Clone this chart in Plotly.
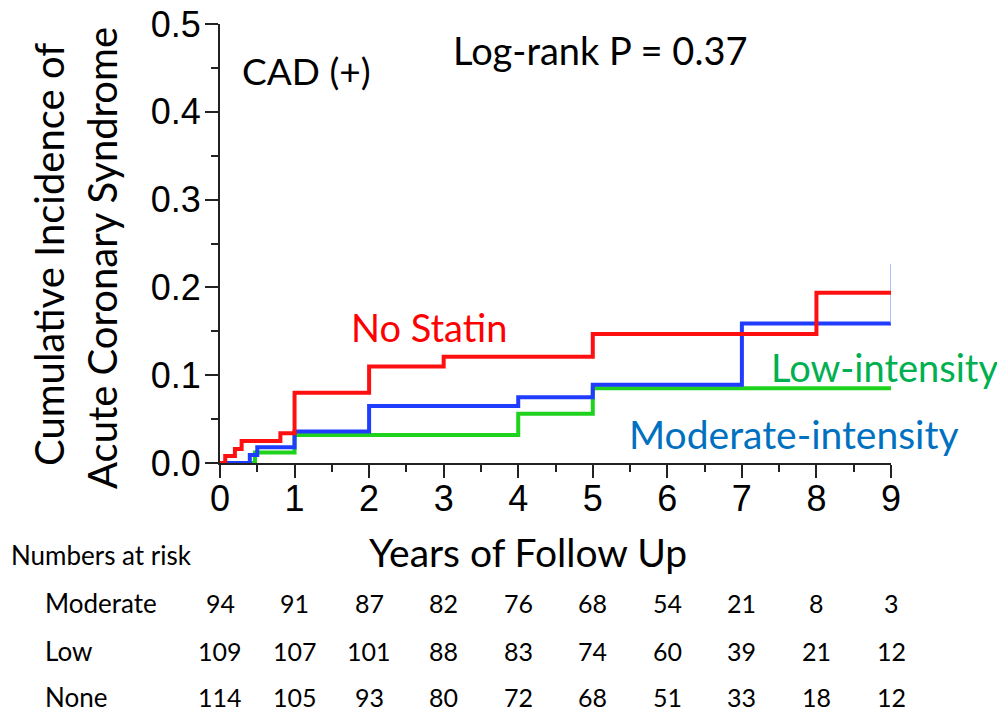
import plotly.graph_objects as go

# ---- data ----
none_x = [0, 0.07, 0.2, 0.29, 0.81, 1.0, 2.0, 3.0, 5.0, 8.0, 9.0]
none_y = [0, 0.008, 0.016, 0.025, 0.034, 0.080, 0.110, 0.121, 0.147, 0.194, 0.194]
mod_x = [0, 0.40, 0.50, 1.0, 2.0, 4.0, 5.0, 7.0, 9.0]
mod_y = [0, 0.009, 0.018, 0.036, 0.065, 0.075, 0.089, 0.159, 0.159]
mod_tail_x = [9.0, 9.0]
mod_tail_y = [0.159, 0.227]
low_x = [0, 0.47, 1.0, 4.0, 5.0, 9.0]
low_y = [0, 0.012, 0.032, 0.056, 0.085, 0.085]

risk_years = [0, 1, 2, 3, 4, 5, 6, 7, 8, 9]
risk_rows = ["Moderate", "Low", "None"]
risk_moderate = [94, 91, 87, 82, 76, 68, 54, 21, 8, 3]
risk_low = [109, 107, 101, 88, 83, 74, 60, 39, 21, 12]
risk_none = [114, 105, 93, 80, 72, 68, 51, 33, 18, 12]

x_ticks = [0, 1, 2, 3, 4, 5, 6, 7, 8, 9]
y_ticks = [0.0, 0.1, 0.2, 0.3, 0.4, 0.5]
y_tick_labels = ["0.0", "0.1", "0.2", "0.3", "0.4", "0.5"]

OFF = 8  # page body margin
W, H = 1005 - OFF, 710 - OFF
L = 220 - OFF
T = 24 - OFF
R = W - (891 - OFF)
B = H - (463 - OFF)

fig = go.Figure()
fig.add_trace(go.Scatter(x=low_x, y=low_y, mode="lines", line=dict(shape="hv", color="#1ed21e", width=4), showlegend=False))
fig.add_trace(go.Scatter(x=mod_x, y=mod_y, mode="lines", line=dict(shape="hv", color="#1f3cff", width=4), showlegend=False))
fig.add_trace(go.Scatter(x=mod_tail_x, y=mod_tail_y, mode="lines", line=dict(color="#9aa8ff", width=1.5), showlegend=False))
fig.add_trace(go.Scatter(x=none_x, y=none_y, mode="lines", line=dict(shape="hv", color="#ff1010", width=4), showlegend=False))

cal = "Lato"
ann = []
ann.append(dict(text="CAD (+)", x=240, y=70, xref="paper", showarrow=False, font=dict(family=cal, size=37, color="black"), xanchor="left", yanchor="middle"))
ann.append(dict(text="Log-rank P = 0.37", x=451, y=50, xref="paper", showarrow=False, font=dict(family=cal, size=38, color="black"), xanchor="left", yanchor="middle"))
ann.append(dict(text="No Statin", x=349, y=327, xref="paper", showarrow=False, font=dict(family=cal, size=38, color="#ff0000"), xanchor="left", yanchor="middle"))
ann.append(dict(text="Low-intensity", x=769, y=367, xref="paper", showarrow=False, font=dict(family=cal, size=38, color="#00b050"), xanchor="left", yanchor="middle"))
ann.append(dict(text="Moderate-intensity", x=627, y=434, xref="paper", showarrow=False, font=dict(family=cal, size=39, color="#0070c0"), xanchor="left", yanchor="middle"))
ann.append(dict(text="Cumulative Incidence of", x=49, y=255, xref="paper", showarrow=False, textangle=-90, font=dict(family=cal, size=40, color="black"), xanchor="center", yanchor="middle"))
ann.append(dict(text="Acute Coronary Syndrome", x=102, y=258, xref="paper", showarrow=False, textangle=-90, font=dict(family=cal, size=40, color="black"), xanchor="center", yanchor="middle"))
ann.append(dict(text="Years of Follow Up", x=528, y=552, xref="paper", showarrow=False, font=dict(family=cal, size=39, color="black"), xanchor="center", yanchor="middle"))
ann.append(dict(text="Numbers at risk", x=9, y=555, xref="paper", showarrow=False, font=dict(family=cal, size=26, color="black"), xanchor="left", yanchor="middle"))

row_y = [603, 651, 697]
for name, vals, yy in zip(risk_rows, [risk_moderate, risk_low, risk_none], row_y):
    ann.append(dict(text=name, x=43, y=yy, xref="paper", showarrow=False, font=dict(family=cal, size=26, color="black"), xanchor="left", yanchor="middle"))
    for yr, v in zip(risk_years, vals):
        ann.append(dict(text=str(v), x=yr, y=yy, xref="x", showarrow=False, font=dict(family=cal, size=25, color="black"), xanchor="center", yanchor="middle"))

# convert reference-pixel positions to paper coordinates
for a in ann:
    if a["xref"] == "paper":
        a["x"] = (a["x"] - OFF - L) / (W - L - R)
    a["y"] = (H - B - (a["y"] - OFF)) / (H - T - B)
    a["yref"] = "paper"

fig.update_layout(
    width=W, height=H,
    margin=dict(l=L, r=R, t=T, b=B, autoexpand=False),
    paper_bgcolor="white", plot_bgcolor="white",
    annotations=ann,
    xaxis=dict(range=[0, 9], tickvals=x_ticks, ticks="outside", ticklen=13, tickwidth=2, tickcolor="#222",
               showline=True, linecolor="#222", linewidth=2, showgrid=False, zeroline=False,
               tickfont=dict(family="Liberation Sans", size=36, color="black"), ticklabelstandoff=-10,
               ticklabeloverflow="allow",
               minor=dict(dtick=0.5, ticks="outside", ticklen=7, tickwidth=2, tickcolor="#222", showgrid=False)),
    yaxis=dict(range=[0, 0.5], tickvals=y_ticks, ticktext=y_tick_labels, ticks="outside", ticklen=13, tickwidth=2, tickcolor="#222",
               showline=True, linecolor="#222", linewidth=2, showgrid=False, zeroline=False,
               tickfont=dict(family="Liberation Sans", size=36, color="black"), ticklabelstandoff=-3,
               ticklabeloverflow="allow",
               minor=dict(dtick=0.05, ticks="outside", ticklen=7, tickwidth=2, tickcolor="#222", showgrid=False)),
)
fig.write_html("out.html")
